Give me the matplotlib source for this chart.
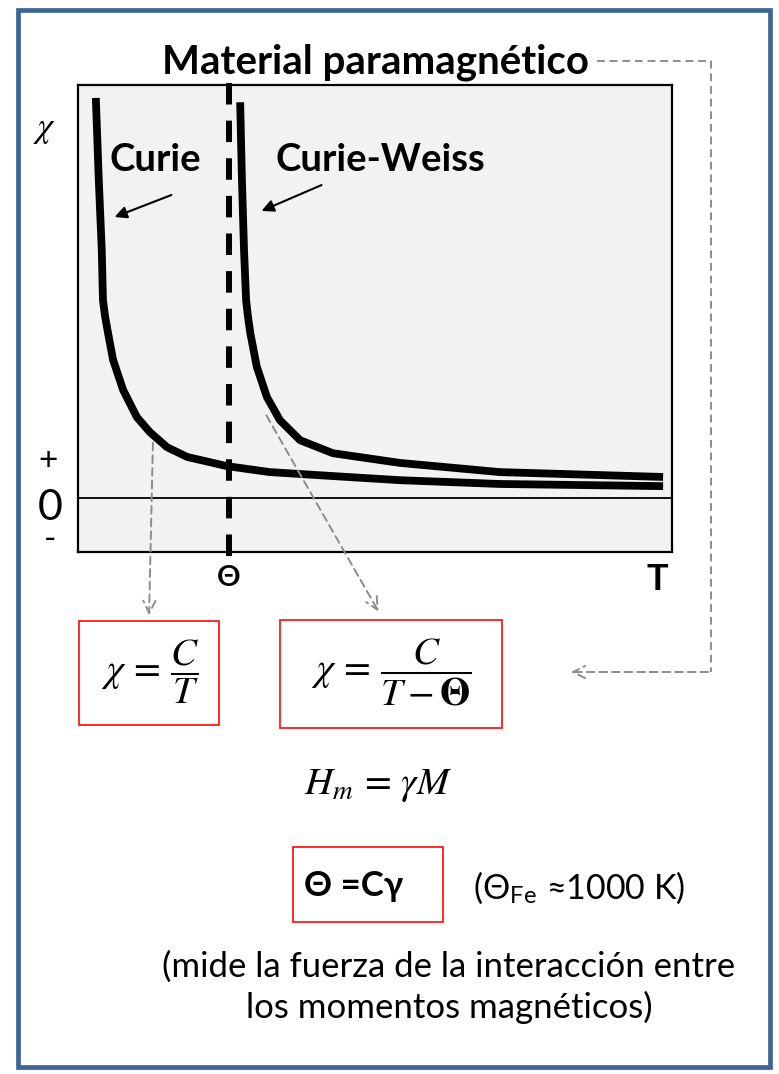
import matplotlib
matplotlib.use("Agg")
import matplotlib.pyplot as plt
from matplotlib.patches import Rectangle

plt.rcParams['font.family'] = ['Lato', 'DejaVu Sans']
plt.rcParams['mathtext.fontset'] = 'stix'

# curva de Curie: chi = C/T
T_curie = [0.30, 0.35, 0.40, 0.42, 0.455, 0.505, 0.59, 0.76, 0.99, 1.21, 1.50, 1.84, 2.51, 3.23, 4.24, 5.42, 7.10, 9.85]
chi_curie = [7.41, 5.89, 4.59, 3.67, 3.37, 3.06, 2.56, 2.00, 1.50, 1.22, 0.94, 0.76, 0.59, 0.48, 0.41, 0.33, 0.26, 0.22]

# curva de Curie-Weiss: chi = C/(T - Theta)
T_cw = [2.73, 2.76, 2.795, 2.83, 2.86, 2.90, 3.01, 3.18, 3.40, 3.74, 4.29, 5.42, 7.10, 9.85]
chi_cw = [7.33, 5.89, 4.59, 3.67, 3.37, 3.06, 2.43, 1.87, 1.44, 1.07, 0.83, 0.65, 0.48, 0.39]

THETA = 2.54
T_max = 10.0
chi_min, chi_max = -1.0, 7.65

W, H = 779, 1074
fig = plt.figure(figsize=(W / 100, H / 100), dpi=100)

# ejes del grafico chi(T)
ax = fig.add_axes([78 / W, 1 - 552 / H, 594 / W, 467 / H], zorder=2)
ax.set_facecolor('#f2f2f2')
ax.set_xlim(0, T_max)
ax.set_ylim(chi_min, chi_max)
ax.set_xticks([])
ax.set_yticks([])
for s in ax.spines.values():
    s.set_linewidth(1.6)
ax.axhline(0, color='black', lw=1.3)
ax.plot([THETA, THETA], [-1.08, 7.72], color='black', lw=4.3,
        dashes=(3.6, 2.7), clip_on=False, zorder=3)
ax.plot(T_curie, chi_curie, color='black', lw=5.6, solid_capstyle='butt',
        solid_joinstyle='round', zorder=4)
ax.plot(T_cw, chi_cw, color='black', lw=5.6, solid_capstyle='butt',
        solid_joinstyle='round', zorder=4)

# capa de anotaciones en pixeles
ov = fig.add_axes([0, 0, 1, 1], zorder=3)
ov.set_xlim(0, W)
ov.set_ylim(H, 0)
ov.axis('off')
ov.patch.set_alpha(0)

ov.add_patch(Rectangle((18.5, 10), 752, 1057, fill=False, ec='#3e6497', lw=3.4))

ov.text(376, 62, 'Material paramagnético', ha='center', va='center',
        fontsize=29, fontweight='bold')
ov.text(155, 160, 'Curie', ha='center', va='center', fontsize=27.5, fontweight='bold')
ov.text(380, 160, 'Curie-Weiss', ha='center', va='center', fontsize=27.5, fontweight='bold')

arr = dict(arrowstyle='-|>', color='black', lw=1.5, mutation_scale=18)
ov.annotate('', xy=(112, 218), xytext=(174, 194), arrowprops=arr)
ov.annotate('', xy=(259, 212), xytext=(324, 184), arrowprops=arr)

ov.text(45, 130, r'$\chi$', ha='center', va='center', fontsize=25)
ov.text(48, 461, '+', ha='center', va='center', fontsize=24)
ov.text(50, 508, '0', ha='center', va='center', fontsize=31)
ov.text(50, 540, '-', ha='center', va='center', fontsize=24)
ov.text(229, 578, 'Θ', ha='center', va='center', fontsize=21, fontweight='bold')
ov.text(657, 580, 'T', ha='center', va='center', fontsize=26, fontweight='bold')

# flechas grises discontinuas
garr = dict(arrowstyle='->', color='#8c8c8c', lw=1.4, linestyle=(0, (4, 2.5)),
            mutation_scale=22)
ov.annotate('', xy=(149, 618), xytext=(153, 440), arrowprops=garr)
ov.annotate('', xy=(380, 614), xytext=(265, 413), arrowprops=garr)
ov.plot([597, 711, 711], [61, 61, 672], color='#8c8c8c', lw=1.4, dashes=(4, 2.5))
ov.annotate('', xy=(568, 672), xytext=(711, 672), arrowprops=garr)

# formulas
red = '#ff1a1a'
ov.add_patch(Rectangle((79, 621), 140, 104, fill=False, ec=red, lw=1.3))
ov.add_patch(Rectangle((280, 620), 222, 108, fill=False, ec=red, lw=1.3))
ov.text(150, 672, r'$\chi\,=\,\dfrac{C}{T}$', ha='center', va='center', fontsize=28)
ov.text(391, 672, r'$\chi\,=\,\dfrac{C}{T - \mathbf{\Theta}}$', ha='center', va='center',
        fontsize=28)
ov.text(378, 785, r'$H_m\,=\,\gamma M$', ha='center', va='center', fontsize=28)

ov.add_patch(Rectangle((293, 847), 150, 75, fill=False, ec=red, lw=1.3))
ov.text(304, 886, 'Θ =Cγ', ha='left', va='center', fontsize=25, fontweight='bold')
ov.text(473, 888, r'(Θ$_\mathregular{Fe}$ ≈1000 K)', ha='left', va='center', fontsize=24.5)

ov.text(449, 967, '(mide la fuerza de la interacción entre', ha='center', va='center',
        fontsize=25)
ov.text(449, 1007, 'los momentos magnéticos)', ha='center', va='center', fontsize=25)

fig.savefig('out.png', dpi=100)
